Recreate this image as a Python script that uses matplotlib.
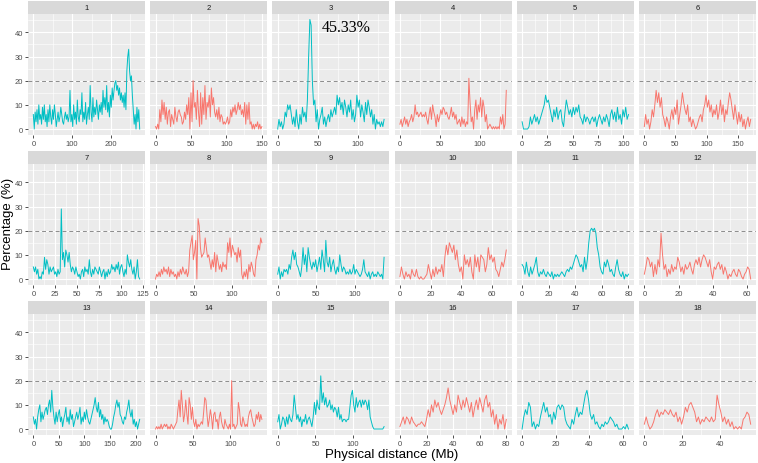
import numpy as np
import matplotlib
matplotlib.use("Agg")
import matplotlib.pyplot as plt

plt.rcParams['font.family'] = ['Liberation Sans', 'DejaVu Sans']

# chromosome lengths (Mb) and axis breaks
chrom_names = [str(i) for i in range(1, 19)]
chrom_len = [274, 150, 133, 133, 105, 171, 121, 139, 138, 69.5, 80, 62, 208, 142, 141, 80, 63.5, 56]
chrom_ticks = [
    [0, 100, 200], [0, 50, 100, 150], [0, 50, 100], [0, 50, 100],
    [0, 25, 50, 75, 100], [0, 50, 100, 150], [0, 25, 50, 75, 100, 125],
    [0, 50, 100], [0, 50, 100], [0, 20, 40, 60], [0, 20, 40, 60, 80],
    [0, 20, 40, 60], [0, 50, 100, 150, 200], [0, 50, 100], [0, 50, 100],
    [0, 20, 40, 60, 80], [0, 20, 40, 60], [0, 20, 40],
]

# percentage along each chromosome (evenly spaced windows)
chr1 = [6, 0, 7, 3, 8, 2, 10, 4, 6, 2, 9, 4, 10, 3, 6, 1, 8, 3, 10, 5, 2, 8, 4, 10, 6, 1, 4, 7, 3, 5,
        9, 6, 3, 2, 5, 7, 4, 6, 3, 5, 16, 3, 6, 1, 10, 4, 7, 2, 12, 5, 3, 8, 6, 15, 3, 7, 4, 11, 2, 6,
        9, 4, 18, 7, 3, 13, 5, 9, 6, 12, 8, 4, 10, 7, 11, 6, 16, 9, 13, 8, 18, 7, 11, 5, 14, 9, 17, 12,
        16, 19, 20, 16, 18, 14, 17, 12, 15, 11, 14, 9, 15, 8, 24, 30, 33, 24, 20, 22, 14, 8, 2, 6, 0, 9,
        3, 8, 0]
chr2 = [1, 0, 2, 0, 8, 3, 12, 6, 11, 4, 9, 2, 7, 8, 1, 6, 4, 2, 9, 5, 3, 7, 8, 6, 5, 2,
        3, 7, 4, 10, 6, 13, 0, 15, 3, 20, 9, 11, 4, 16, 7, 1, 15, 2, 13, 6, 18, 4, 11, 9, 14, 5, 17, 10,
        13, 7, 5, 8, 4, 9, 3, 6, 5, 2, 3, 2, 3, 5, 2, 3, 8, 5, 9, 7, 10, 6, 8, 11, 8, 10, 6, 8, 5, 11, 2,
        10, 4, 11, 2, 3, 0, 2, 0, 2, 1, 3, 0, 2, 0, 1]
chr3 = [0, 4, 1, 3, 0, 2, 7, 5, 10, 8, 10, 6, 2, 5, 1, 8, 3, 0, 6, 2, 9, 5, 7, 3, 12, 30,
        45.33, 43, 20, 10, 12, 3, 8, 0, 4, 6, 9, 2, 5, 1, 4, 6, 3, 8, 5, 7, 9, 6, 14, 10, 13, 8, 11,
        6, 12, 9, 5, 10, 7, 12, 4, 8, 3, 6, 14, 9, 12, 5, 10, 7, 3, 11, 6, 12, 9, 5, 8, 2, 6, 0, 4, 2, 3,
        1, 3, 1, 4]
chr4 = [2, 4, 1, 3, 5, 2, 4, 1, 3, 4, 6, 3, 5, 10, 6, 7, 5, 6, 7, 5, 6, 5, 7, 4, 2, 6, 9, 4, 10, 7,
        5, 1, 6, 3, 5, 8, 6, 9, 8, 6, 7, 5, 4, 6, 9, 5, 7, 4, 6, 2, 3, 4, 1, 5, 2, 4, 1, 3, 2, 21, 11, 3,
        5, 0, 8, 12, 4, 10, 7, 13, 5, 12, 9, 3, 6, 0, 1, 2, 1, 0, 1, 0, 1, 0, 1, 0, 5, 2, 6, 0, 2, 16]
chr5 = [3, 0, 0, 0, 0, 1, 5, 2, 4, 6, 3, 5, 2, 4, 6, 8, 10, 14, 11, 12, 9, 6, 3, 8, 5, 9, 4, 7, 8, 3,
        1, 7, 12, 9, 6, 8, 5, 9, 6, 9, 7, 10, 5, 4, 2, 6, 3, 5, 4, 2, 4, 5, 3, 5, 1, 4, 6, 4, 2, 5, 3, 6,
        4, 1, 6, 8, 4, 7, 3, 9, 4, 6, 2, 8, 5, 9, 4, 6]
chr6 = [1, 6, 2, 4, 0, 3, 8, 5, 10, 16, 11, 15, 9, 13, 6, 4, 1, 5, 3, 0, 5, 8, 4, 9, 6, 12, 2, 6, 10,
        15, 11, 8, 6, 10, 3, 5, 1, 4, 2, 0, 1, 3, 5, 6, 3, 8, 10, 14, 9, 12, 7, 10, 5, 8, 6, 10, 4, 7, 12,
        6, 10, 3, 8, 6, 11, 15, 12, 8, 4, 10, 6, 2, 7, 3, 6, 1, 4, 0, 3, 5, 1, 4]
chr7 = [5, 3, 5, 2, 4, 0, 1, 0, 3, 2, 9, 4, 8, 6, 2, 5, 3, 4, 5, 2, 3, 1, 4, 2, 3, 29, 8, 11,
        5, 12, 10, 7, 11, 6, 3, 5, 4, 2, 5, 3, 1, 2, 0, 3, 4, 1, 5, 3, 4, 2, 8, 3, 1, 4, 2, 5, 4, 3, 2, 5,
        3, 1, 3, 4, 0, 3, 1, 4, 2, 3, 6, 4, 5, 3, 6, 4, 7, 2, 5, 6, 3, 1, 4, 2, 10, 7, 5, 8, 4, 2, 5, 0,
        3, 8, 1, 0]
chr8 = [0, 2, 1, 3, 1, 4, 2, 5, 3, 4, 2, 5, 1, 4, 2, 3, 1, 2, 0, 3, 1, 4, 2, 5, 3, 2, 4, 1, 3,
        12, 15, 18, 8, 11, 16, 0, 25, 22, 13, 9, 10, 11, 17, 13, 9, 10, 7, 4, 8, 5, 11, 3, 10, 7, 4, 6,
        3, 7, 5, 6, 4, 15, 11, 17, 9, 14, 12, 10, 11, 7, 13, 9, 12, 2, 0, 3, 1, 4, 0, 6, 3, 7, 5, 2, 1,
        8, 10, 14, 12, 17, 15]
chr9 = [2, 5, 0, 3, 1, 4, 3, 4, 2, 6, 4, 9, 12, 8, 11, 6, 5, 3, 1, 5, 13, 6, 10, 3, 13, 9,
        6, 4, 7, 5, 8, 3, 6, 9, 4, 12, 8, 3, 16, 7, 5, 9, 3, 6, 8, 4, 2, 5, 3, 10, 6, 3, 5, 4, 2, 3, 2,
        4, 2, 3, 6, 2, 4, 3, 2, 1, 2, 4, 8, 3, 2, 1, 3, 0, 2, 3, 1, 2, 1, 3, 2, 1, 2, 0, 9]
chr10 = [1, 5, 2, 0, 3, 1, 2, 0, 4, 2, 1, 4, 1, 0, 1, 0, 0, 1, 2, 6, 3, 0, 4, 1, 5, 2, 4, 3, 6, 1, 9,
         14, 10, 15, 13, 11, 14, 8, 12, 6, 3, 5, 0, 10, 6, 8, 5, 9, 3, 0, 10, 5, 9, 3, 10, 9, 8, 3, 6,
         13, 8, 10, 7, 9, 4, 3, 1, 4, 7, 5, 8, 12]
chr11 = [6, 5, 2, 7, 3, 1, 5, 2, 4, 6, 9, 3, 1, 3, 2, 4, 2, 1, 3, 2, 1, 3, 0, 2, 1, 2, 1, 2, 3, 2, 1,
         3, 4, 3, 5, 4, 6, 8, 10, 9, 7, 5, 6, 3, 9, 4, 8, 15, 20, 21, 20, 21, 19, 13, 10, 5, 3, 2, 7, 5,
         8, 6, 3, 4, 2, 1, 5, 8, 4, 2, 1, 3, 0, 2, 1, 2]
chr12 = [2, 5, 9, 8, 5, 7, 1, 6, 2, 8, 5, 19, 10, 4, 6, 1, 4, 2, 6, 3, 5, 4, 9, 7, 3, 5, 2, 6, 4, 5,
         7, 4, 2, 6, 8, 6, 9, 5, 8, 10, 9, 7, 5, 8, 3, 0, 5, 4, 6, 7, 4, 6, 2, 5, 3, 0, 2, 1, 3, 4, 2, 1,
         4, 3, 1, 0, 2, 3, 5, 4, 0]
chr13 = [5, 2, 4, 0, 5, 8, 10, 3, 7, 4, 6, 8, 9, 6, 10, 12, 7, 16, 9, 5, 2, 7, 3, 6, 8, 3, 5, 1, 4,
         6, 9, 3, 5, 2, 8, 4, 6, 1, 3, 5, 7, 4, 6, 9, 2, 5, 3, 7, 4, 8, 5, 3, 2, 4, 6, 8, 10, 13,
         9, 7, 11, 5, 8, 4, 6, 2, 5, 3, 4, 3, 1, 0, 0, 2, 5, 7, 10, 12, 9, 11, 6, 5, 3, 2, 5, 4, 7, 9, 12,
         7, 5, 8, 2, 4, 1, 3, 0, 2, 4]
chr14 = [0, 1, 0, 1, 0, 2, 0, 1, 2, 1, 2, 0, 1, 0, 2, 1, 0, 1, 2, 3, 8, 12, 5, 16, 10, 3, 6, 12, 6, 2,
         13, 10, 4, 9, 3, 1, 4, 0, 2, 1, 2, 3, 2, 7, 13, 12, 6, 1, 4, 8, 5, 0, 6, 7, 3, 4, 0, 5, 7, 3, 1,
         0, 4, 2, 1, 0, 2, 0, 20, 1, 2, 0, 1, 2, 11, 8, 2, 1, 5, 3, 1, 2, 1, 5, 7, 8, 5, 3, 1, 2, 6, 4,
         7, 3, 6, 4]
chr15 = [3, 6, 0, 2, 5, 4, 1, 5, 2, 6, 4, 3, 6, 14, 9, 4, 6, 3, 5, 1, 4, 3, 6, 2, 4, 5, 3, 1, 5,
         11, 6, 12, 9, 8, 22, 11, 15, 10, 13, 9, 10, 12, 8, 10, 7, 9, 8, 5, 9, 4, 6, 3, 4, 4, 3, 4, 4,
         9, 14, 16, 10, 7, 13, 9, 11, 12, 9, 12, 10, 12, 11, 8, 12, 5, 3, 1, 0, 0, 0, 0, 0, 0, 0, 0, 1]
chr16 = [1, 3, 5, 2, 5, 4, 2, 5, 3, 2, 1, 2, 2, 3, 2, 1, 4, 8, 5, 10, 7, 12, 9, 11, 8, 6, 8,
         10, 13, 17, 12, 9, 6, 10, 7, 14, 11, 8, 12, 9, 13, 10, 7, 11, 5, 9, 12, 8, 13, 10, 7, 12, 14, 9,
         11, 5, 8, 2, 6, 0, 4, 2, 6, 0, 4]
chr17 = [0, 5, 8, 6, 11, 9, 1, 3, 0, 2, 1, 5, 8, 11, 7, 9, 5, 6, 2, 7, 4, 9, 10, 8, 10, 9, 4, 2,
         1, 0, 4, 2, 6, 9, 5, 7, 6, 10, 14, 16, 12, 6, 4, 6, 2, 3, 1, 0, 2, 1, 3, 2, 3, 5, 4, 3, 1, 2,
         0, 0, 0, 1, 0, 2, 0]
chr18 = [2, 5, 2, 0, 1, 3, 6, 8, 5, 7, 6, 8, 7, 6, 8, 6, 5, 7, 3, 5, 2, 5, 9, 7, 10, 11, 9, 7, 3, 5,
         2, 4, 3, 5, 4, 3, 5, 3, 4, 14, 10, 7, 3, 5, 2, 4, 1, 3, 0, 1, 0, 1, 0, 4, 5, 7, 6, 2]

all_pct = [chr1, chr2, chr3, chr4, chr5, chr6, chr7, chr8, chr9, chr10, chr11, chr12,
           chr13, chr14, chr15, chr16, chr17, chr18]
threshold = 20
peak_label = "45.33%"

colors = ['#00BFC4', '#F8766D']
W, H = 758, 464
fig = plt.figure(figsize=(W / 100, H / 100), dpi=100)


def px_axes(left, top, width, height):
    return fig.add_axes([left / W, 1 - (top + height) / H, width / W, height / H])


ymax = max(max(v) for v in all_pct)
ylim = (-0.05 * ymax, 1.05 * ymax)

for i in range(18):
    row, col = divmod(i, 6)
    left = 28 + col * 122.2
    top = 2 + row * 150
    # strip
    sax = px_axes(left, top, 117, 13)
    sax.set_facecolor('#D9D9D9')
    sax.set_xticks([])
    sax.set_yticks([])
    for s in sax.spines.values():
        s.set_visible(False)
    sax.text(0.5, 0.5, chrom_names[i], ha='center', va='center', fontsize=5.5, color='#1A1A1A')

    ax = px_axes(left, top + 13, 117, 120.5)
    ax.set_facecolor('#EBEBEB')
    for s in ax.spines.values():
        s.set_visible(False)
    L = chrom_len[i]
    xlim = (-0.05 * L, 1.05 * L)
    vals = all_pct[i]
    x = np.linspace(0, L, len(vals))
    ax.plot(x, vals, color=colors[i % 2], lw=0.7, zorder=3)
    ax.axhline(threshold, color='#8C8C8C', lw=0.7, ls=(0, (4, 3)), zorder=2)

    ticks = chrom_ticks[i]
    step = ticks[1] - ticks[0]
    minor = [t + step / 2 for t in [ticks[0] - step] + ticks]
    minor = [m for m in minor if xlim[0] <= m <= xlim[1]]
    ax.set_xticks(ticks)
    ax.set_xticks(minor, minor=True)
    ax.set_yticks([0, 10, 20, 30, 40])
    ax.set_yticks([5, 15, 25, 35, 45], minor=True)
    ax.set_xlim(xlim)
    ax.set_ylim(ylim)
    ax.grid(which='major', color='white', lw=0.8, zorder=0)
    ax.grid(which='minor', color='white', lw=0.4, zorder=0)
    ax.set_axisbelow(True)
    ax.tick_params(which='major', length=2.2, width=0.6, color='#333333',
                   labelsize=5.5, labelcolor='#4D4D4D', pad=1.5)
    ax.tick_params(which='minor', length=0)
    if col != 0:
        ax.tick_params(axis='y', which='both', left=False, labelleft=False)
    if i == 2:
        ax.text(0.63, 0.895, peak_label, transform=ax.transAxes, ha='center', va='center',
                fontsize=11.5, family='Liberation Serif', color='black')

fig.text(8.5 / W, 1 - 224 / H, 'Percentage (%)', rotation=90, ha='center', va='center', fontsize=9.5)
fig.text(392 / W, 1 - 455 / H, 'Physical distance (Mb)', ha='center', va='center', fontsize=9.5)

fig.savefig('out.png', dpi=100)
